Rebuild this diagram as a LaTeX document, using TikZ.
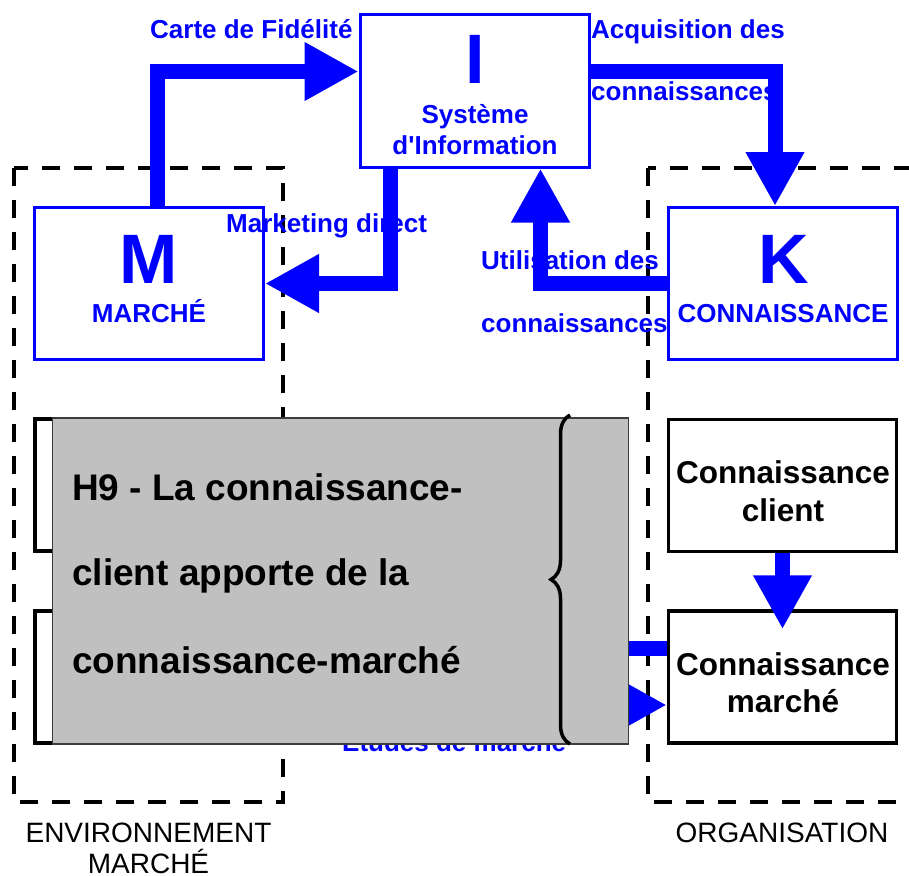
\documentclass[tikz,border=0pt]{standalone}
\usepackage{fontspec}
\setmainfont{Liberation Sans}
\usetikzlibrary{arrows.meta,calc,decorations.pathreplacing}
\definecolor{pblue}{RGB}{0,0,255}
\definecolor{hgray}{RGB}{192,192,192}
\definecolor{hborder}{RGB}{60,60,60}
\begin{document}
\begin{tikzpicture}[x=1pt,y=-1pt,
  bluebox/.style={draw=pblue,line width=3pt,fill=white,minimum width=229pt,minimum height=152pt,inner sep=0pt},
  blackbox/.style={draw=black,line width=3.5pt,fill=white,minimum width=228pt,minimum height=132pt,inner sep=0pt},
  blab/.style={text=pblue,font=\bfseries\fontsize{26}{30}\selectfont,inner sep=0pt,anchor=base west},
  bigletter/.style={text=pblue,font=\bfseries\fontsize{70}{70}\selectfont,inner sep=0pt,anchor=base},
  boxtxt/.style={text=pblue,font=\bfseries\fontsize{26}{30}\selectfont,inner sep=0pt,anchor=base},
  blacktxt/.style={text=black,font=\bfseries\fontsize{31.5}{36}\selectfont,inner sep=0pt,anchor=base},
  htxt/.style={text=black,font=\bfseries\fontsize{37}{40}\selectfont,inner sep=0pt,anchor=base west},
  zonetxt/.style={text=black,font=\fontsize{28}{32}\selectfont,inner sep=0pt,anchor=base},
  zone/.style={draw=black,line width=4pt,dash pattern=on 18pt off 14pt},
  bigarrow/.style={draw=pblue,line width=15pt,line join=miter,-{Triangle[length=54pt,width=55pt]}}
]
\useasboundingbox (0,0) rectangle (909,875);

% zones
\draw[zone] (14,168) rectangle (283,802);
\draw[zone] (648,168) rectangle (930,802);

% boxes
\node[bluebox] (I) at (474.5,91) {};
\node[bluebox] (M) at (149,283.5) {};
\node[bluebox] (K) at (783,283.5) {};
\node[blackbox] (HB1) at (149,485) {};
\node[blackbox] (HB2) at (149,677) {};
\node[blackbox] (Cc) at (782.5,485.5) {};
\node[blackbox] (Cm) at (782.5,677) {};

% arrows
\draw[bigarrow] ($(M.north)+(8,0)$) |- ($(I.north west)+(0,58)$);
\draw[bigarrow] ($(I.north east)+(0,58)$) -| ($(K.north)+(-8,0)$);
\draw[bigarrow] ($(I.south west)+(32,0)$) |- (M.east);
\draw[bigarrow] (K.west) -| ($(I.south west)+(182,0)$);
\draw[bigarrow] (Cc.south) -- ($(Cm.north)+(0,20)$);
\draw[bigarrow] ($(HB2.east)+(0,28)$) -- ($(Cm.west)+(0,28)$);
\draw[bigarrow] ($(Cm.west)+(0,-29)$) -- ($(HB2.east)+(0,-29)$);

% connector labels
\node[blab] (lcarte) at (150,39) {Carte de Fidélité};
\node[blab] (lacq1) at (591,39) {Acquisition des};
\node[blab] (lacq2) at (591,100) {connaissances};
\node[blab] (lmkt) at (226,232) {Marketing direct};
\node[blab] (lut1) at (481,269) {Utilisation des};
\node[blab] (lut2) at (481,332) {connaissances};
\node[blab] (letu) at (342,751) {Etudes de marché};

% box texts
\node[bigletter] (tI) at (475,83) {I};
\node[boxtxt] (tsys) at (475,123) {Système};
\node[boxtxt] (tinf) at (475,154) {d\textquotesingle Information};
\node[bigletter] (tM) at (149,283) {M};
\node[boxtxt] (tmar) at (149,322) {MARCHÉ};
\node[bigletter] (tK) at (784,283) {K};
\node[boxtxt] (tcon) at (783,322) {CONNAISSANCE};
\node[blacktxt] (tcc1) at (783,483) {Connaissance};
\node[blacktxt] (tcc2) at (783,521) {client};
\node[blacktxt] (tcm1) at (783,675) {Connaissance};
\node[blacktxt] (tcm2) at (783,712) {marché};

% overlay hypothesis box
\node[draw=hborder,line width=1.5pt,fill=hgray,minimum width=576pt,minimum height=326pt,inner sep=0pt] (H9) at (340.5,581) {};
\node[htxt] (h1) at (72,500) {H9 - La connaissance-};
\node[htxt] (h2) at (72,585) {client apporte de la};
\node[htxt] (h3) at (72,673) {connaissance-marché};
\draw[line width=3.5pt,decorate,decoration={brace,amplitude=19pt}] (570,744) -- (570,415);

% zone labels
\node[zonetxt] (zenv1) at (148.5,842) {ENVIRONNEMENT};
\node[zonetxt] (zenv2) at (148.5,873) {MARCHÉ};
\node[zonetxt] (zorg) at (782,842) {ORGANISATION};
\end{tikzpicture}
\end{document}
